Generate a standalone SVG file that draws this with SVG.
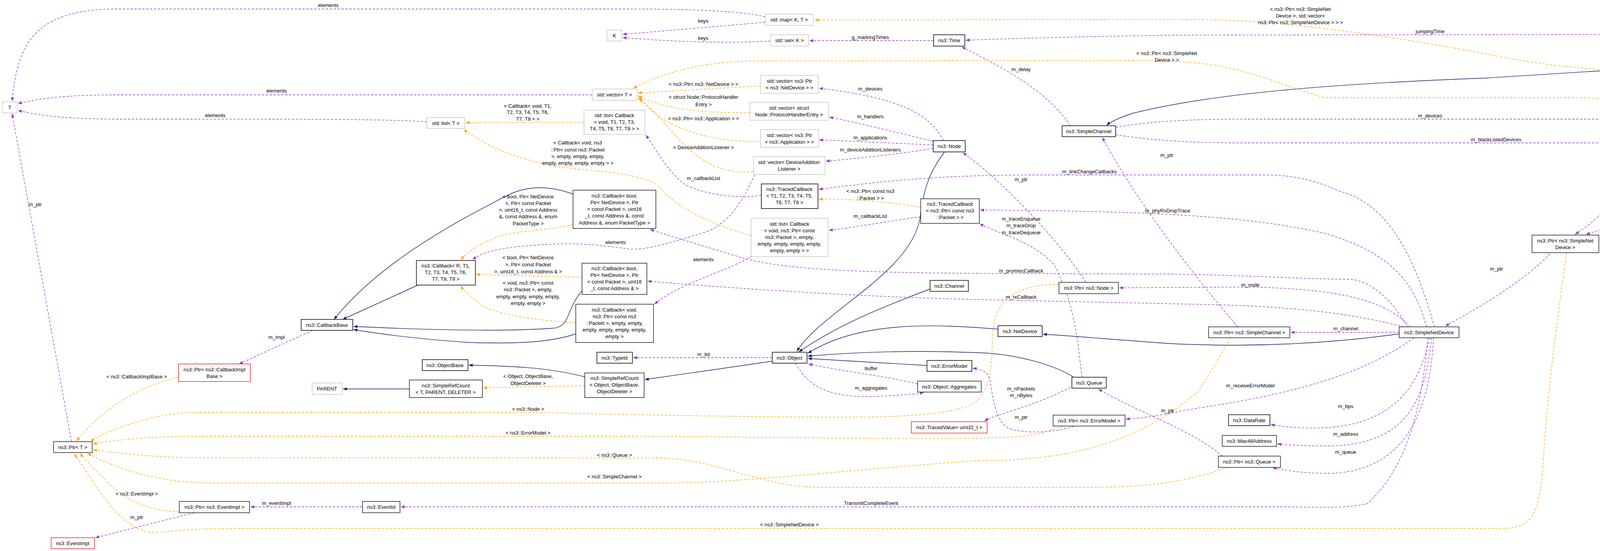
<svg xmlns="http://www.w3.org/2000/svg" width="4731" height="1411" viewBox="0 0 4731 1411">
<defs>
<style>
text{font-family:"Liberation Sans",Arial,sans-serif;font-size:13px;fill:#000}
.n text{text-anchor:middle}
.b{fill:#fff;stroke:#000;stroke-width:1.3}
.bb{fill:#fff;stroke:#404040;stroke-width:2}
.g{fill:#fff;stroke:#bfbfbf;stroke-width:1.3}
.r{fill:#fff;stroke:#ff0000;stroke-width:1.3}
.gr{fill:#bfbfbf;stroke:#000;stroke-width:1.5}
.p{fill:none;stroke:#9a32cd;stroke-width:1.3;stroke-dasharray:6,4;marker-end:url(#mp)}
.o{fill:none;stroke:#ffa500;stroke-width:1.3;stroke-dasharray:6,4;marker-end:url(#mo)}
.v{fill:none;stroke:#191970;stroke-width:1.4;marker-end:url(#mv)}
.l{text-anchor:middle}
</style>
<marker id="mp" viewBox="0 0 10 8" refX="10" refY="4" markerWidth="10" markerHeight="8" markerUnits="userSpaceOnUse" orient="auto"><path d="M0,0L10,4L0,8z" fill="#9a32cd"/></marker>
<marker id="mo" viewBox="0 0 10 8" refX="10" refY="4" markerWidth="10" markerHeight="8" markerUnits="userSpaceOnUse" orient="auto"><path d="M0,0L10,4L0,8z" fill="#ffa500"/></marker>
<marker id="mv" viewBox="0 0 10 8" refX="10" refY="4" markerWidth="10" markerHeight="8" markerUnits="userSpaceOnUse" orient="auto"><path d="M0,0L10,4L0,8z" fill="#191970"/></marker>
</defs>
<rect width="4731" height="1411" fill="#fff"/>
<g id="edges">
<path class="p" d="M1959,43 C1900,30 1800,23 1600,23 L300,23 C80,23 45,120 31,259"/>
<path class="p" d="M1959,57 L1594,88"/>
<path class="p" d="M1972,105 C1900,110 1750,110 1594,96"/>
<path class="p" d="M2390,104 L2072,104"/>
<path class="p" d="M4570,135 C4500,100 4420,88 4300,88 L3000,90 C2700,95 2550,100 2472,103"/>
<path class="o" d="M4584,300 C4520,200 4420,180 4300,182 C4200,186 4000,180 3800,137 C3600,100 3300,50 3050,50 L2086,51"/>
<path class="p" d="M2740,322 C2680,230 2560,170 2462,120"/>
<path class="v" d="M4553,153 C4200,175 3900,195 3800,200 C3400,215 3100,240 2900,290 C2870,300 2845,310 2833,321"/>
<path class="o" d="M4216,283 C4150,255 4100,250 4025,250 L3395,250 C3330,240 3200,170 3050,160 C3000,156 2950,155 2900,155 L1950,156 C1800,156 1700,185 1621,226"/>
<path class="o" d="M1947,220 L1633,238"/>
<path class="o" d="M1920,288 C1800,290 1700,280 1633,245"/>
<path class="o" d="M1947,362 C1800,365 1720,320 1690,300 C1660,280 1650,260 1633,250"/>
<path class="o" d="M1929,440 C1850,445 1800,420 1740,360 C1690,300 1660,270 1635,253"/>
<path class="p" d="M2415,360 C2380,290 2300,250 2097,226"/>
<path class="p" d="M2389,362 C2300,340 2200,315 2123,300"/>
<path class="p" d="M2389,371 L2097,358"/>
<path class="p" d="M2389,380 C2300,395 2200,405 2114,413"/>
<path class="v" d="M2418,389 C2380,440 2365,480 2355,560 C2330,700 2100,800 2040,900"/>
<path class="p" d="M1516,243 L300,243 C150,243 90,255 46,265"/>
<path class="p" d="M1093,312 C1000,305 800,305 300,305 C150,305 90,293 46,283"/>
<path class="o" d="M1495,313 L1192,314"/>
<path class="p" d="M1949,500 C1900,510 1800,500 1750,470 C1700,430 1680,380 1653,346"/>
<path class="o" d="M2357,530 C2250,515 2200,510 2096,510"/>
<path class="p" d="M3672,837 C3620,650 3550,520 3430,490 C3350,455 3300,448 3230,448 L2650,448 C2400,448 2250,465 2096,485"/>
<path class="p" d="M3603,837 C3560,760 3500,715 3450,715 C3350,715 3200,705 3000,702 L2500,700 C2200,698 2000,690 1900,660 C1800,630 1700,600 1664,587"/>
<path class="p" d="M3594,837 C3450,800 3300,785 3100,780 L2500,767 C2200,760 1900,740 1658,720"/>
<path class="p" d="M3652,837 C3620,720 3560,650 3400,600 C3200,550 2900,540 2509,538"/>
<path class="p" d="M2770,966 C2760,900 2760,800 2700,680 C2650,620 2560,600 2508,573"/>
<path class="p" d="M2357,555 C2250,570 2200,580 2122,590"/>
<path class="o" d="M1923,603 C1800,570 1720,520 1690,480 C1660,450 1560,440 1480,433 C1350,420 1250,380 1187,331"/>
<path class="o" d="M1467,575 C1400,590 1340,590 1300,600 C1250,610 1200,640 1180,665"/>
<path class="o" d="M1490,710 L1219,703"/>
<path class="o" d="M1474,826 C1350,820 1260,800 1230,780 C1210,760 1190,750 1180,732"/>
<path class="v" d="M1070,730 L877,818"/>
<path class="v" d="M1467,497 C1420,480 1360,470 1300,500 C1100,600 950,700 855,818"/>
<path class="v" d="M1490,745 C1450,790 1460,835 1420,840 C1300,850 1100,845 905,836"/>
<path class="v" d="M1474,855 C1400,880 1300,880 1200,877 C1100,870 1000,860 905,844"/>
<path class="p" d="M800,846 L612,932"/>
<path class="o" d="M457,966 C350,990 260,1050 196,1129"/>
<path class="p" d="M183,1131 L31,291"/>
<path class="p" d="M1923,657 C1850,700 1750,720 1675,779"/>
<path class="p" d="M1932,447 C1900,520 1860,580 1797,597 C1720,620 1660,640 1614,638 C1550,630 1480,620 1400,626 C1300,632 1240,640 1210,665"/>
<path class="o" d="M2711,728 C2580,730 2540,780 2540,880 C2540,950 2530,1010 2490,1035 C2400,1075 2200,1070 1800,1065 C1500,1060 1400,1056 1300,1056 L500,1056 C400,1056 280,1100 232,1130"/>
<path class="o" d="M2720,1091 C2650,1120 2600,1120 2500,1122 C2200,1125 1800,1117 1600,1117 L500,1117 C400,1117 300,1125 238,1137"/>
<path class="o" d="M3142,1197 C3050,1230 2950,1248 2800,1248 L2100,1248 C1950,1248 1850,1180 1700,1173 L500,1172 C400,1172 300,1160 238,1152"/>
<path class="o" d="M3150,865 C3120,920 3100,950 3070,1000 C2900,1150 2700,1180 2500,1180 C2200,1200 1900,1237 1700,1237 L550,1237 C400,1237 300,1200 224,1161"/>
<path class="o" d="M459,1310 C400,1310 330,1290 280,1240 C240,1200 220,1180 205,1161"/>
<path class="o" d="M4010,647 C3990,800 3960,1000 3950,1200 C3940,1300 3930,1353 3850,1353 L600,1353 C450,1353 400,1370 370,1360 C300,1340 250,1250 190,1162"/>
<path class="p" d="M928,1298 L641,1298"/>
<path class="p" d="M497,1313 L244,1377"/>
<path class="p" d="M3655,865 C3640,1050 3600,1200 3500,1290 C3450,1300 3400,1300 3300,1298 L1026,1298"/>
<path class="p" d="M1977,916 L1621,916"/>
<path class="v" d="M1977,925 L1651,972"/>
<path class="o" d="M1497,988 L1237,993"/>
<path class="v" d="M1048,996 L878,996"/>
<path class="v" d="M1497,965 C1400,940 1300,937 1200,935"/>
<path class="v" d="M2373,936 L2068,918"/>
<path class="p" d="M2349,983 C2250,960 2150,950 2070,932"/>
<path class="p" d="M2036,930 C2070,990 2120,1020 2250,1015 C2300,1012 2340,1010 2365,1005"/>
<path class="v" d="M2381,740 C2250,790 2150,830 2045,901"/>
<path class="v" d="M2555,843 C2400,830 2200,820 2068,905"/>
<path class="v" d="M3582,855 C3400,880 3200,890 3000,880 C2850,870 2750,860 2670,856"/>
<path class="v" d="M2749,966 C2700,935 2600,905 2500,903 C2300,895 2150,905 2068,912"/>
<path class="p" d="M2740,992 C2650,1040 2550,1060 2520,1078"/>
<path class="p" d="M2749,1092 C2690,1110 2620,1110 2583,1097 C2545,1080 2540,1000 2533,967 C2525,950 2510,945 2490,943"/>
<path class="p" d="M3620,865 C3500,950 3350,1000 3100,1040 C3000,1055 2950,1070 2882,1073"/>
<path class="p" d="M3130,1168 C3050,1100 2900,1050 2812,996"/>
<path class="p" d="M3660,865 C3640,950 3600,1080 3400,1095 C3320,1098 3280,1092 3253,1087"/>
<path class="p" d="M3665,865 C3650,1000 3620,1140 3400,1142 C3330,1142 3300,1139 3270,1137"/>
<path class="p" d="M3670,865 C3660,1050 3600,1210 3400,1212 C3330,1212 3300,1205 3258,1198"/>
<path class="p" d="M3610,837 C3540,760 3400,740 3200,735 L2865,737"/>
<path class="p" d="M3582,851 L3304,851"/>
<path class="p" d="M3968,650 C3900,720 3800,780 3700,835"/>
<path class="p" d="M4586,163 C4500,220 4420,260 4345,283"/>
<path class="p" d="M4507,328 L4391,316"/>
<path class="p" d="M4272,328 C4200,450 4100,560 4032,600"/>
<path class="p" d="M4530,380 C4400,480 4200,560 4060,600"/>
<path class="p" d="M2856,326 C2950,310 3050,305 3200,305 L4198,305"/>
<path class="p" d="M2856,345 C2950,360 3050,366 3200,366 L4050,366 C4300,366 4400,360 4505,355"/>
<path class="p" d="M3169,837 C3050,700 2900,500 2822,352"/>
<path class="p" d="M2780,723 C2700,600 2550,450 2465,391"/>
</g>
<g id="edge-labels" class="l">
<text x="840" y="18" class="l">elements</text>
<text x="708" y="237" class="l">elements</text>
<text x="551" y="300" class="l">elements</text>
<text x="1800" y="58" class="l">keys</text>
<text x="1800" y="102" class="l">keys</text>
<text x="2228" y="100" class="l">g_markingTimes</text>
<text x="1801" y="220" class="l">&lt; ns3::Ptr&lt; ns3::NetDevice &gt; &gt;</text>
<text x="1801" y="253" class="l">&lt; struct Node::ProtocolHandler</text>
<text x="1801" y="272" class="l">Entry &gt;</text>
<text x="1801" y="308" class="l">&lt; ns3::Ptr&lt; ns3::Application &gt; &gt;</text>
<text x="1801" y="382" class="l">&lt; DeviceAdditionListener &gt;</text>
<text x="2228" y="232" class="l">m_devices</text>
<text x="2228" y="303" class="l">m_handlers</text>
<text x="2228" y="357" class="l">m_applications</text>
<text x="2228" y="388" class="l">m_deviceAdditionListeners</text>
<text x="1351" y="276" class="l">&lt; Callback&lt; void, T1,</text>
<text x="1351" y="292" class="l">T2, T3, T4, T5, T6,</text>
<text x="1351" y="309" class="l">T7, T8 &gt; &gt;</text>
<text x="1479" y="370">&lt; Callback&lt; void, ns3</text>
<text x="1479" y="388">::Ptr&lt; const ns3::Packet</text>
<text x="1479" y="405">&gt;, empty, empty, empty,</text>
<text x="1479" y="422">empty, empty, empty, empty &gt; &gt;</text>
<text x="1801" y="461" class="l">m_callbackList</text>
<text x="2228" y="494" class="l">&lt; ns3::Ptr&lt; const ns3</text>
<text x="2228" y="512" class="l">::Packet &gt; &gt;</text>
<text x="2228" y="558" class="l">m_callbackList</text>
<text x="3329" y="28">&lt; ns3::Ptr&lt; ns3::SimpleNet</text>
<text x="3329" y="45">Device &gt;, std::vector&lt;</text>
<text x="3329" y="62"> ns3::Ptr&lt; ns3::SimpleNetDevice &gt; &gt; &gt;</text>
<text x="3661" y="85" class="l">jumpingTime</text>
<text x="2987" y="141" class="l">&lt; ns3::Ptr&lt; ns3::SimpleNet</text>
<text x="2987" y="158" class="l">Device &gt; &gt;</text>
<text x="2614" y="182" class="l">m_delay</text>
<text x="3661" y="301" class="l">m_devices</text>
<text x="3830" y="362" class="l">m_blackListedDevices</text>
<text x="2987" y="402" class="l">m_ptr</text>
<text x="2789" y="444" class="l">m_linkChangeCallbacks</text>
<text x="2614" y="464" class="l">m_ptr</text>
<text x="4449" y="214" class="l">m_devices</text>
<text x="4449" y="314" class="l">elements</text>
<text x="4149" y="442" class="l">elements</text>
<text x="4296" y="445" class="l">keys</text>
<text x="90" y="528" class="l">m_ptr</text>
<text x="708" y="868" class="l">m_impl</text>
<text x="1352" y="508" class="l">&lt; bool, Ptr&lt; NetDevice</text>
<text x="1352" y="525" class="l">&gt;, Ptr&lt; const Packet</text>
<text x="1352" y="542" class="l">&gt;, uint16_t, const Address</text>
<text x="1352" y="559" class="l">&amp;, const Address &amp;, enum</text>
<text x="1352" y="577" class="l">PacketType &gt;</text>
<text x="1576" y="625" class="l">elements</text>
<text x="1801" y="669" class="l">elements</text>
<text x="1352" y="664" class="l">&lt; bool, Ptr&lt; NetDevice</text>
<text x="1352" y="682" class="l">&gt;, Ptr&lt; const Packet</text>
<text x="1352" y="700" class="l">&gt;, uint16_t, const Address &amp; &gt;</text>
<text x="1352" y="729" class="l">&lt; void, ns3::Ptr&lt; const</text>
<text x="1352" y="746" class="l">ns3::Packet &gt;, empty,</text>
<text x="1352" y="764" class="l">empty, empty, empty, empty,</text>
<text x="1352" y="781" class="l">empty, empty &gt;</text>
<text x="1801" y="912" class="l">m_tid</text>
<text x="2989" y="544" class="l">m_phyRxDropTrace</text>
<text x="2614" y="565" class="l">m_traceEnqueue</text>
<text x="2614" y="582" class="l">m_traceDrop</text>
<text x="2614" y="600" class="l">m_traceDequeue</text>
<text x="2614" y="698" class="l">m_promiscCallback</text>
<text x="3201" y="734" class="l">m_node</text>
<text x="2614" y="765" class="l">m_rxCallback</text>
<text x="3445" y="846" class="l">m_channel</text>
<text x="3831" y="693" class="l">m_ptr</text>
<text x="1352" y="968" class="l">&lt; Object, ObjectBase,</text>
<text x="1352" y="986" class="l">ObjectDeleter &gt;</text>
<text x="2230" y="948" class="l">buffer</text>
<text x="2230" y="998" class="l">m_aggregates</text>
<text x="1352" y="1052" class="l">&lt; ns3::Node &gt;</text>
<text x="1352" y="1113" class="l">&lt; ns3::ErrorModel &gt;</text>
<text x="1573" y="1170" class="l">&lt; ns3::Queue &gt;</text>
<text x="1573" y="1225" class="l">&lt; ns3::SimpleChannel &gt;</text>
<text x="2230" y="1293" class="l">TransmitCompleteEvent</text>
<text x="2021" y="1348" class="l">&lt; ns3::SimpleNetDevice &gt;</text>
<text x="350" y="969" class="l">&lt; ns3::CallbackImplBase &gt;</text>
<text x="350" y="1269" class="l">&lt; ns3::EventImpl &gt;</text>
<text x="708" y="1293" class="l">m_eventImpl</text>
<text x="350" y="1329" class="l">m_ptr</text>
<text x="2614" y="1000" class="l">m_nPackets</text>
<text x="2614" y="1017" class="l">m_nBytes</text>
<text x="2614" y="1073" class="l">m_ptr</text>
<text x="2989" y="1056" class="l">m_ptr</text>
<text x="3201" y="992" class="l">m_receiveErrorModel</text>
<text x="3445" y="1045" class="l">m_bps</text>
<text x="3445" y="1116" class="l">m_address</text>
<text x="3445" y="1162" class="l">m_queue</text>
</g>
<g class="n">
<g id="ErrorChannel"><rect class="gr" x="4553" y="135" width="126" height="28"/><text x="4616" y="154">ns3::ErrorChannel</text></g>
<g id="T"><rect class="g" x="6" y="261" width="38" height="28"/><text x="25" y="280">T</text></g>
<g id="mapKT"><rect class="g" x="1959" y="36" width="123" height="29"/><text x="2020" y="55">std::map&lt; K, T &gt;</text></g>
<g id="K"><rect class="g" x="1554" y="77" width="38" height="28"/><text x="1573" y="96">K</text></g>
<g id="setK"><rect class="g" x="1972" y="89" width="98" height="29"/><text x="2021" y="108">std::set&lt; K &gt;</text></g>
<g id="Time"><rect class="bb" x="2390" y="89" width="80" height="29"/><text x="2430" y="108">ns3::Time</text></g>
<g id="vectorT"><rect class="g" x="1516" y="228" width="115" height="29"/><text x="1573" y="247">std::vector&lt; T &gt;</text></g>
<g id="listT"><rect class="g" x="1093" y="301" width="97" height="28"/><text x="1141" y="320">std::list&lt; T &gt;</text></g>
<g id="vecNetDevice"><rect class="g" x="1947" y="193" width="148" height="46"/><text x="2021" y="212">std::vector&lt; ns3::Ptr</text><text x="2021" y="229">&lt; ns3::NetDevice &gt; &gt;</text></g>
<g id="vecPHE"><rect class="g" x="1920" y="262" width="201" height="46"/><text x="2020" y="281">std::vector&lt; struct</text><text x="2020" y="298">Node::ProtocolHandlerEntry &gt;</text></g>
<g id="listCbT"><rect class="g" x="1495" y="282" width="156" height="62"/><text x="1573" y="300">std::list&lt; Callback</text><text x="1573" y="317">&lt; void, T1, T2, T3,</text><text x="1573" y="334">T4, T5, T6, T7, T8 &gt; &gt;</text></g>
<g id="vecApp"><rect class="g" x="1947" y="332" width="148" height="45"/><text x="2021" y="351">std::vector&lt; ns3::Ptr</text><text x="2021" y="368">&lt; ns3::Application &gt; &gt;</text></g>
<g id="Node"><rect class="bb" x="2389" y="360" width="82" height="29"/><text x="2430" y="379">ns3::Node</text></g>
<g id="vecDAL"><rect class="g" x="1929" y="401" width="183" height="46"/><text x="2020" y="420">std::vector&lt; DeviceAddition</text><text x="2020" y="437">Listener &gt;</text></g>
<g id="TracedCb"><rect class="bb" x="1949" y="471" width="145" height="63"/><text x="2021" y="489">ns3::TracedCallback</text><text x="2021" y="506">&lt; T1, T2, T3, T4, T5,</text><text x="2021" y="523">T6, T7, T8 &gt;</text></g>
<g id="SimpleChannel"><rect class="bb" x="2719" y="322" width="137" height="28"/><text x="2787" y="341">ns3::SimpleChannel</text></g>
<g id="vecSND"><rect class="g" x="4200" y="283" width="189" height="45"/><text x="4294" y="302">std::vector&lt; ns3::Ptr</text><text x="4294" y="319">&lt; ns3::SimpleNetDevice &gt; &gt;</text></g>
<g id="mapSND"><rect class="g" x="4507" y="300" width="218" height="80"/><text x="4616" y="318">std::map&lt; ns3::Ptr</text><text x="4616" y="335">&lt; ns3::SimpleNetDevice</text><text x="4616" y="352">&gt;, std::vector&lt; ns3::</text><text x="4616" y="369">Ptr&lt; ns3::SimpleNetDevice &gt; &gt; &gt;</text></g>
<g id="CbPacketType"><rect class="b" x="1467" y="487" width="212" height="98"/><text x="1573" y="506">ns3::Callback&lt; bool,</text><text x="1573" y="523">Ptr&lt; NetDevice &gt;, Ptr</text><text x="1573" y="540">&lt; const Packet &gt;, uint16</text><text x="1573" y="557">_t, const Address &amp;, const</text><text x="1573" y="575">Address &amp;, enum PacketType &gt;</text></g>
<g id="listCbPkt"><rect class="g" x="1923" y="559" width="197" height="98"/><text x="2021" y="578">std::list&lt; Callback</text><text x="2021" y="595">&lt; void, ns3::Ptr&lt; const</text><text x="2021" y="612">ns3::Packet &gt;, empty,</text><text x="2021" y="629">empty, empty, empty, empty,</text><text x="2021" y="646">empty, empty &gt; &gt;</text></g>
<g id="TracedCbPkt"><rect class="b" x="2357" y="509" width="150" height="63"/><text x="2432" y="527">ns3::TracedCallback</text><text x="2432" y="544">&lt; ns3::Ptr&lt; const ns3</text><text x="2432" y="561">::Packet &gt; &gt;</text></g>
<g id="CallbackR"><rect class="bb" x="1066" y="667" width="151" height="63"/><text x="1141" y="685">ns3::Callback&lt; R, T1,</text><text x="1141" y="702">T2, T3, T4, T5, T6,</text><text x="1141" y="719">T7, T8, T9 &gt;</text></g>
<g id="CbAddress"><rect class="b" x="1490" y="674" width="166" height="80"/><text x="1573" y="692">ns3::Callback&lt; bool,</text><text x="1573" y="709">Ptr&lt; NetDevice &gt;, Ptr</text><text x="1573" y="726">&lt; const Packet &gt;, uint16</text><text x="1573" y="743">_t, const Address &amp; &gt;</text></g>
<g id="CbVoid"><rect class="b" x="1474" y="779" width="199" height="98"/><text x="1573" y="798">ns3::Callback&lt; void,</text><text x="1573" y="815">ns3::Ptr&lt; const ns3</text><text x="1573" y="832">::Packet &gt;, empty, empty,</text><text x="1573" y="849">empty, empty, empty, empty,</text><text x="1573" y="866">empty &gt;</text></g>
<g id="Channel"><rect class="bb" x="2381" y="718" width="98" height="28"/><text x="2430" y="737">ns3::Channel</text></g>
<g id="PtrNode"><rect class="b" x="2711" y="723" width="152" height="29"/><text x="2787" y="742">ns3::Ptr&lt; ns3::Node &gt;</text></g>
<g id="NetDevice"><rect class="bb" x="2555" y="834" width="113" height="28"/><text x="2611" y="853">ns3::NetDevice</text></g>
<g id="PtrSimpleChannel"><rect class="b" x="3094" y="837" width="208" height="28"/><text x="3198" y="856">ns3::Ptr&lt; ns3::SimpleChannel &gt;</text></g>
<g id="SimpleNetDevice"><rect class="b" x="3582" y="837" width="153" height="28"/><text x="3658" y="856">ns3::SimpleNetDevice</text></g>
<g id="PtrSND"><rect class="b" x="3922" y="602" width="171" height="45"/><text x="4007" y="621">ns3::Ptr&lt; ns3::SimpleNet</text><text x="4007" y="638">Device &gt;</text></g>
<g id="CallbackBase"><rect class="bb" x="771" y="818" width="132" height="28"/><text x="837" y="837">ns3::CallbackBase</text></g>
<g id="TypeId"><rect class="bb" x="1528" y="902" width="91" height="28"/><text x="1573" y="921">ns3::TypeId</text></g>
<g id="Object"><rect class="bb" x="1977" y="902" width="89" height="28"/><text x="2021" y="921">ns3::Object</text></g>
<g id="ErrorModel"><rect class="bb" x="2373" y="923" width="115" height="28"/><text x="2430" y="942">ns3::ErrorModel</text></g>
<g id="ObjectBase"><rect class="bb" x="1081" y="921" width="117" height="28"/><text x="1139" y="940">ns3::ObjectBase</text></g>
<g id="PtrCallbackImplBase"><rect class="r" x="457" y="932" width="184" height="45"/><text x="549" y="951">ns3::Ptr&lt; ns3::CallbackImpl</text><text x="549" y="968">Base &gt;</text></g>
<g id="PARENT"><rect class="g" x="799" y="981" width="77" height="29"/><text x="837" y="1000">PARENT</text></g>
<g id="SimpleRefCountT"><rect class="b" x="1048" y="973" width="187" height="45"/><text x="1141" y="992">ns3::SimpleRefCount</text><text x="1141" y="1009">&lt; T, PARENT, DELETER &gt;</text></g>
<g id="SimpleRefCountObject"><rect class="b" x="1497" y="955" width="152" height="63"/><text x="1573" y="973">ns3::SimpleRefCount</text><text x="1573" y="990">&lt; Object, ObjectBase,</text><text x="1573" y="1007">ObjectDeleter &gt;</text></g>
<g id="Aggregates"><rect class="b" x="2349" y="976" width="163" height="28"/><text x="2430" y="995">ns3::Object::Aggregates</text></g>
<g id="Queue"><rect class="bb" x="2744" y="966" width="88" height="28"/><text x="2788" y="985">ns3::Queue</text></g>
<g id="TracedValue"><rect class="r" x="2333" y="1080" width="194" height="29"/><text x="2430" y="1099">ns3::TracedValue&lt; uint32_t &gt;</text></g>
<g id="PtrErrorModel"><rect class="b" x="2696" y="1063" width="184" height="28"/><text x="2788" y="1082">ns3::Ptr&lt; ns3::ErrorModel &gt;</text></g>
<g id="DataRate"><rect class="bb" x="3145" y="1062" width="106" height="28"/><text x="3198" y="1081">ns3::DataRate</text></g>
<g id="Mac48Address"><rect class="b" x="3129" y="1115" width="139" height="28"/><text x="3198" y="1134">ns3::Mac48Address</text></g>
<g id="PtrQueue"><rect class="b" x="3119" y="1168" width="159" height="29"/><text x="3198" y="1187">ns3::Ptr&lt; ns3::Queue &gt;</text></g>
<g id="PtrT"><rect class="b" x="137" y="1131" width="99" height="28"/><text x="186" y="1150">ns3::Ptr&lt; T &gt;</text></g>
<g id="PtrEventImpl"><rect class="b" x="459" y="1284" width="180" height="29"/><text x="549" y="1303">ns3::Ptr&lt; ns3::EventImpl &gt;</text></g>
<g id="EventId"><rect class="b" x="928" y="1284" width="96" height="29"/><text x="976" y="1303">ns3::EventId</text></g>
<g id="EventImpl"><rect class="r" x="131" y="1377" width="111" height="28"/><text x="186" y="1396">ns3::EventImpl</text></g>
</g>
</svg>
